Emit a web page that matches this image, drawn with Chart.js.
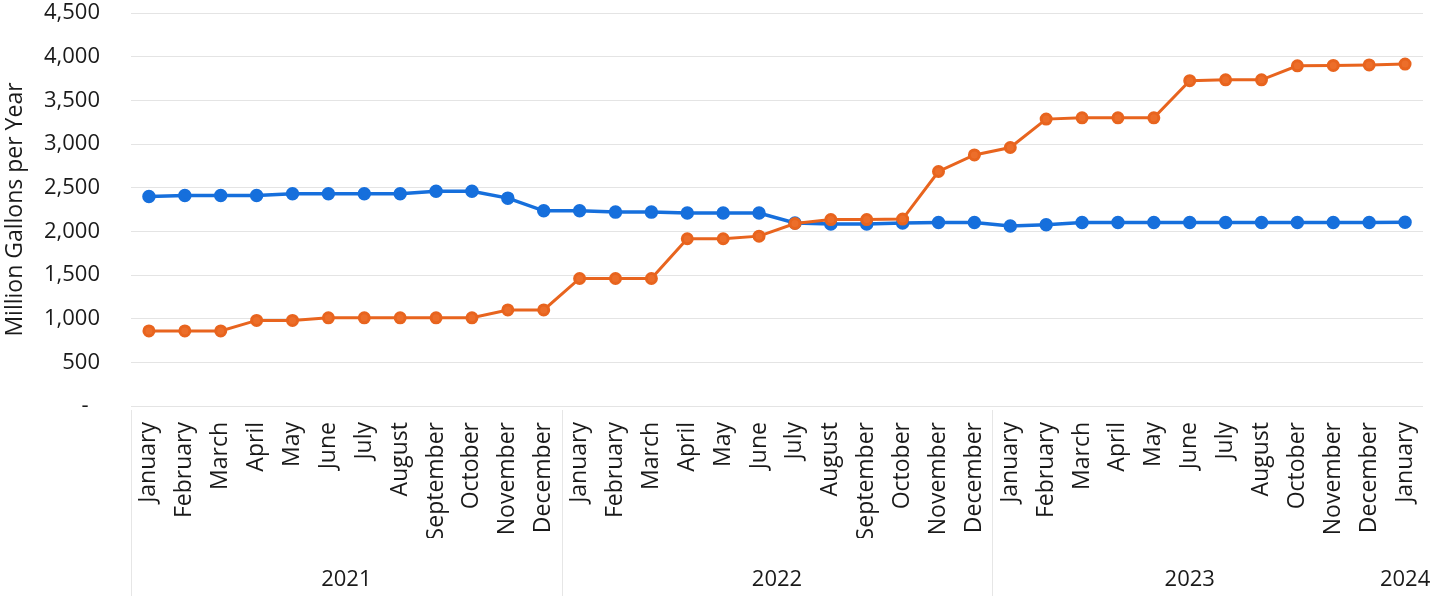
<!DOCTYPE html>
<html>
<head>
<meta charset="utf-8">
<script src="https://cdn.jsdelivr.net/npm/chart.js@4"></script>
<style>
  html, body { margin: 0; padding: 0; background: #fff; }
  #wrap { width: 1432px; height: 596px; }
</style>
</head>
<body>
<div id="wrap"><canvas id="chart"></canvas></div>
<script>
const months = [
  'January', 'February', 'March', 'April', 'May', 'June', 'July', 'August', 'September', 'October', 'November', 'December',
  'January', 'February', 'March', 'April', 'May', 'June', 'July', 'August', 'September', 'October', 'November', 'December',
  'January', 'February', 'March', 'April', 'May', 'June', 'July', 'August', 'October', 'November', 'December',
  'January'
];
const years = ['2021', '2022', '2023', '2024'];
const yearCounts = [12, 12, 11, 1];

const blueSeries = [
  2400, 2410, 2410, 2410, 2430, 2430, 2430, 2430, 2460, 2460, 2380, 2235,
  2235, 2220, 2220, 2210, 2210, 2210, 2095, 2085, 2085, 2095, 2100, 2100,
  2060, 2075, 2100, 2100, 2100, 2100, 2100, 2100, 2100, 2100, 2100,
  2105
];
const orangeSeries = [
  860, 860, 860, 980, 980, 1010, 1010, 1010, 1010, 1010, 1100, 1100,
  1460, 1460, 1460, 1915, 1915, 1945, 2090, 2135, 2135, 2140, 2685, 2875,
  2960, 3285, 3300, 3300, 3300, 3725, 3735, 3735, 3895, 3900, 3905,
  3915
];

const FONT = "'Open Sans', sans-serif";
const TEXT = '#1a1a1a';

// draws the year row under the month labels, with separators between groups
const yearGroups = {
  id: 'yearGroups',
  afterDraw(chart) {
    const { ctx, scales: { x }, chartArea } = chart;
    const step = x.getPixelForValue(1) - x.getPixelForValue(0);
    const top = chartArea.bottom + 4;
    const bottom = chart.height;
    ctx.save();
    ctx.font = `22px ${FONT}`;
    ctx.fillStyle = TEXT;
    ctx.textAlign = 'center';
    ctx.textBaseline = 'middle';
    let start = 0;
    years.forEach((yr, i) => {
      const end = start + yearCounts[i] - 1;
      const cx = (x.getPixelForValue(start) + x.getPixelForValue(end)) / 2;
      ctx.fillText(yr, cx, chart.height - 16);
      if (i < years.length - 1) {
        const lx = Math.round(x.getPixelForValue(start) - step / 2) + 0.5;
        ctx.strokeStyle = '#e6e6e6';
        ctx.lineWidth = 1;
        ctx.beginPath();
        ctx.moveTo(lx, top);
        ctx.lineTo(lx, bottom);
        ctx.stroke();
      }
      start = end + 1;
    });
    ctx.restore();
  }
};

function draw() {
  new Chart(document.getElementById('chart'), {
    type: 'line',
    data: {
      labels: months,
      datasets: [
        {
          label: 'Series 1',
          data: blueSeries,
          borderColor: '#166fdc',
          backgroundColor: '#166fdc',
          borderWidth: 3.5,
          pointRadius: 5,
          pointHoverRadius: 5,
          tension: 0,
          order: 2
        },
        {
          label: 'Series 2',
          data: orangeSeries,
          borderColor: '#e8641e',
          backgroundColor: '#ec6e2a',
          borderWidth: 3,
          pointRadius: 5,
          pointHoverRadius: 5,
          tension: 0,
          order: 1
        }
      ]
    },
    options: {
      responsive: true,
      maintainAspectRatio: false,
      animation: false,
      layout: { padding: { top: 13, right: 9, bottom: 58, left: 0 } },
      plugins: {
        legend: { display: false },
        tooltip: { enabled: false }
      },
      scales: {
        x: {
          offset: true,
          grid: { display: false, drawTicks: false },
          border: { display: false },
          afterFit: s => { s.height = 132; s.paddingLeft = 0; s.paddingRight = 0; },
          ticks: {
            autoSkip: false,
            maxRotation: 90,
            minRotation: 90,
            padding: 16,
            color: TEXT,
            font: { family: FONT, size: 23 }
          }
        },
        y: {
          min: 0,
          max: 4500,
          grid: { color: '#e4e4e4', drawTicks: false },
          border: { display: false },
          afterFit: s => { s.width = 131; s.paddingTop = 0; s.paddingBottom = 0; },
          ticks: {
            stepSize: 500,
            padding: 31,
            color: TEXT,
            font: { family: FONT, size: 22 },
            callback: v => v === 0 ? '-  ' : v.toLocaleString('en-US')
          },
          title: {
            display: true,
            text: 'Million Gallons per Year',
            color: TEXT,
            font: { family: FONT, size: 23 },
            padding: { top: 2, bottom: 10 }
          }
        }
      }
    },
    plugins: [yearGroups]
  });
}

Promise.all([
  document.fonts.load(`22px ${FONT}`),
  document.fonts.load(`23px ${FONT}`)
]).then(draw, draw);
</script>
</body>
</html>
